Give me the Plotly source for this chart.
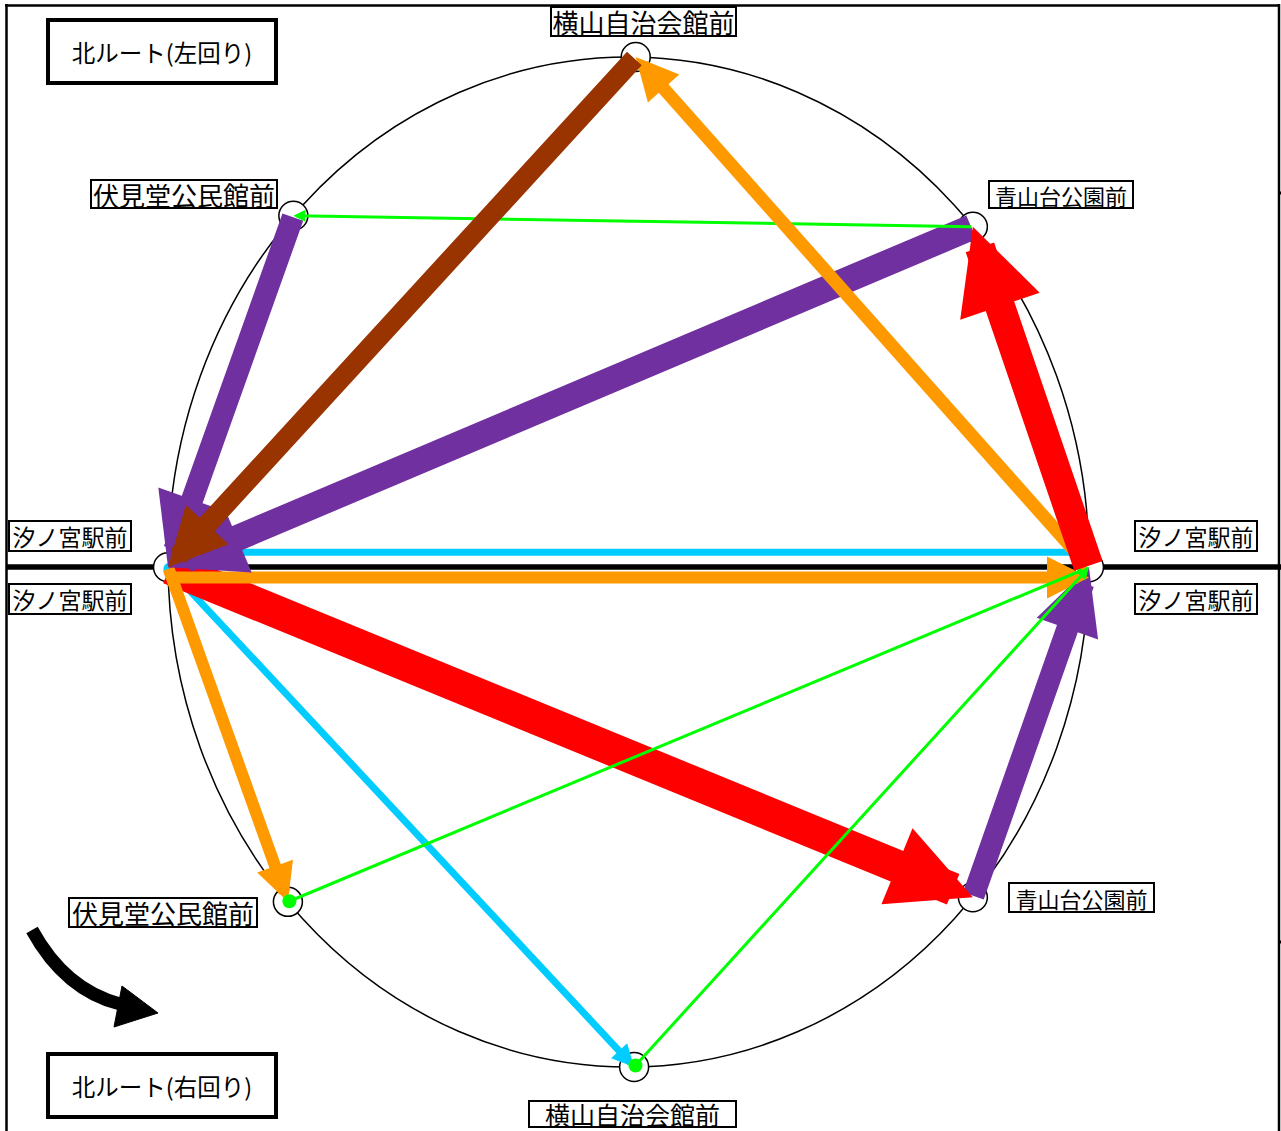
import numpy as np
import plotly.graph_objects as go

# ---------------- data ----------------
# stations on the ring (angle in degrees, counter-clockwise from the right side)
station_names = ["汐ノ宮駅前", "青山台公園前", "横山自治会館前", "伏見堂公民館前",
                 "汐ノ宮駅前", "伏見堂公民館前", "横山自治会館前", "青山台公園前"]
station_angles = [-0.6, 41.6, 89.1, 136.7, 180.6, 222.3, 270.7, 318.4]

# flows between stations (index into station lists) and their volume
flow_from = [0, 0, 0, 1, 1, 2, 3, 4, 4, 4, 4, 5, 6, 7]
flow_to = [1, 2, 4, 4, 3, 4, 4, 0, 7, 5, 6, 0, 0, 0]
flow_volume = [30, 13, 7, 26, 3, 20, 22, 12, 33, 12, 7, 3, 3, 22]

route_titles = ["北ルート(左回り)", "北ルート(右回り)"]

# ---------------- styles ----------------
RED, ORANGE, CYAN, PURPLE, GREEN, BROWN = "#FF0000", "#FF9900", "#00CCFF", "#7030A0", "#00FF00", "#993300"
flow_color = [RED, ORANGE, CYAN, PURPLE, GREEN, BROWN, PURPLE,
              ORANGE, RED, ORANGE, CYAN, GREEN, GREEN, PURPLE]
flow_head_px = [84, 42, 22, 75, 12, 58, 72, 42, 82, 38, 22, 12, 12, 65]
flow_lane = [0, 0, 0.03, 0, 0, 0, 0, -0.02, 0, 0, 0, 0, 0, 0]   # parallel lane shift (data units)
flow_start_dot = [0, 0, 0, 0, 0, 0, 0, 0, 0, 0, 6, 7, 7, 0]      # start dot radius px
draw_order = [13, 10, 8, 7, 9, 11, 12, 2, 3, 6, 4, 1, 0, 5]

FONT = "Noto Sans CJK JP"

ang = np.radians(station_angles)
sx = np.cos(ang)
sy = np.sin(ang)

fig = go.Figure()

# ring stations
fig.add_trace(go.Scatter(
    x=sx, y=sy, mode="markers",
    marker=dict(size=29, color="white", line=dict(color="black", width=1.5)),
    hoverinfo="text", text=station_names, showlegend=False))

annotations = []
for i in draw_order:
    a, b = flow_from[i], flow_to[i]
    w = flow_volume[i]
    ann = dict(
        x=sx[b], y=sy[b] + flow_lane[i], ax=sx[a], ay=sy[a] + flow_lane[i],
        xref="x", yref="y", axref="x", ayref="y",
        text="", showarrow=True, arrowhead=2, arrowcolor=flow_color[i],
        arrowwidth=w, arrowsize=flow_head_px[i] / (5.0 * w), standoff=0)
    if flow_start_dot[i]:
        ann.update(arrowside="end+start", startarrowhead=6,
                   startarrowsize=flow_start_dot[i] / (2.0 * w), startstandoff=0)
    annotations.append(ann)

# station labels: (station index, centre x px, centre y px, box w, box h, font size)
label_specs = [
    (2, 643, 21, 187, 31, 26),
    (1, 1061, 194, 146, 29, 22),
    (3, 184, 194, 188, 30, 26),
    (4, 70, 536, 124, 32, 23),
    (4, 70, 599, 124, 32, 23),
    (0, 1196, 536, 124, 32, 23),
    (0, 1196, 599, 124, 32, 23),
    (5, 163, 912, 190, 31, 26),
    (7, 1081, 897, 147, 31, 22),
    (6, 632, 1114, 209, 28, 25),
]
for si, cx, cy, bw, bh, fs in label_specs:
    annotations.append(dict(
        x=cx, y=cy, xref="x2", yref="y2", text=station_names[si], showarrow=False,
        font=dict(family=FONT, size=fs, color="black"),
        bgcolor="white", bordercolor="black", borderwidth=2, borderpad=0,
        width=bw - 4, height=bh - 4))

for t, cy in zip(route_titles, [51, 1085]):
    annotations.append(dict(
        x=162, y=cy, xref="x2", yref="y2", text=t, showarrow=False,
        font=dict(family=FONT, size=23.5, color="black"),
        bgcolor="white", bordercolor="black", borderwidth=4, borderpad=0,
        width=224, height=59))

shapes = [
    # ring
    dict(type="circle", xref="x", yref="y", x0=-1, x1=1, y0=-1, y1=1,
         line=dict(color="black", width=1.5), layer="below"),
    # horizontal divider
    dict(type="line", xref="x2", yref="y2", x0=7, x1=1281, y0=567, y1=567,
         line=dict(color="black", width=5.5), layer="below"),
    # frame
    dict(type="line", xref="x2", yref="y2", x0=6.5, x1=6.5, y0=4, y1=1131,
         line=dict(color="black", width=2.5)),
    dict(type="line", xref="x2", yref="y2", x0=5, x1=1280, y0=5.5, y1=5.5,
         line=dict(color="black", width=2.5)),
    dict(type="line", xref="x2", yref="y2", x0=1279, x1=1279, y0=4, y1=1131,
         line=dict(color="black", width=2.5)),
    dict(type="line", xref="x2", yref="y2", x0=1279, x1=1283, y0=193, y1=193,
         line=dict(color="black", width=3)),
    dict(type="line", xref="x2", yref="y2", x0=1279, x1=1283, y0=942, y1=942,
         line=dict(color="black", width=3)),
    # direction arrow
    dict(type="path", xref="x2", yref="y2", path="M 32,930 Q 65,990 120,1004",
         line=dict(color="black", width=13)),
    dict(type="path", xref="x2", yref="y2", path="M 158,1013 L 122,986 L 114,1027 Z",
         fillcolor="black", line=dict(color="black", width=1)),
]

X_PX, Y_PX, CX, CY = 460.5, 505.0, 628.5, 562.0
W, H = 1281, 1131
fig.update_layout(
    width=W, height=H, autosize=False,
    margin=dict(l=0, r=0, t=0, b=0, pad=0),
    paper_bgcolor="white", plot_bgcolor="white",
    showlegend=False,
    xaxis=dict(range=[-CX / X_PX, (W - CX) / X_PX], visible=False, fixedrange=True),
    yaxis=dict(range=[-(H - CY) / Y_PX, CY / Y_PX], visible=False, fixedrange=True),
    xaxis2=dict(range=[0, W], overlaying="x", visible=False, fixedrange=True),
    yaxis2=dict(range=[H, 0], overlaying="y", visible=False, fixedrange=True),
    annotations=annotations,
    shapes=shapes,
)

fig.write_html("out.html", config={"displayModeBar": False},
               post_script="document.body.style.margin='0px';")
